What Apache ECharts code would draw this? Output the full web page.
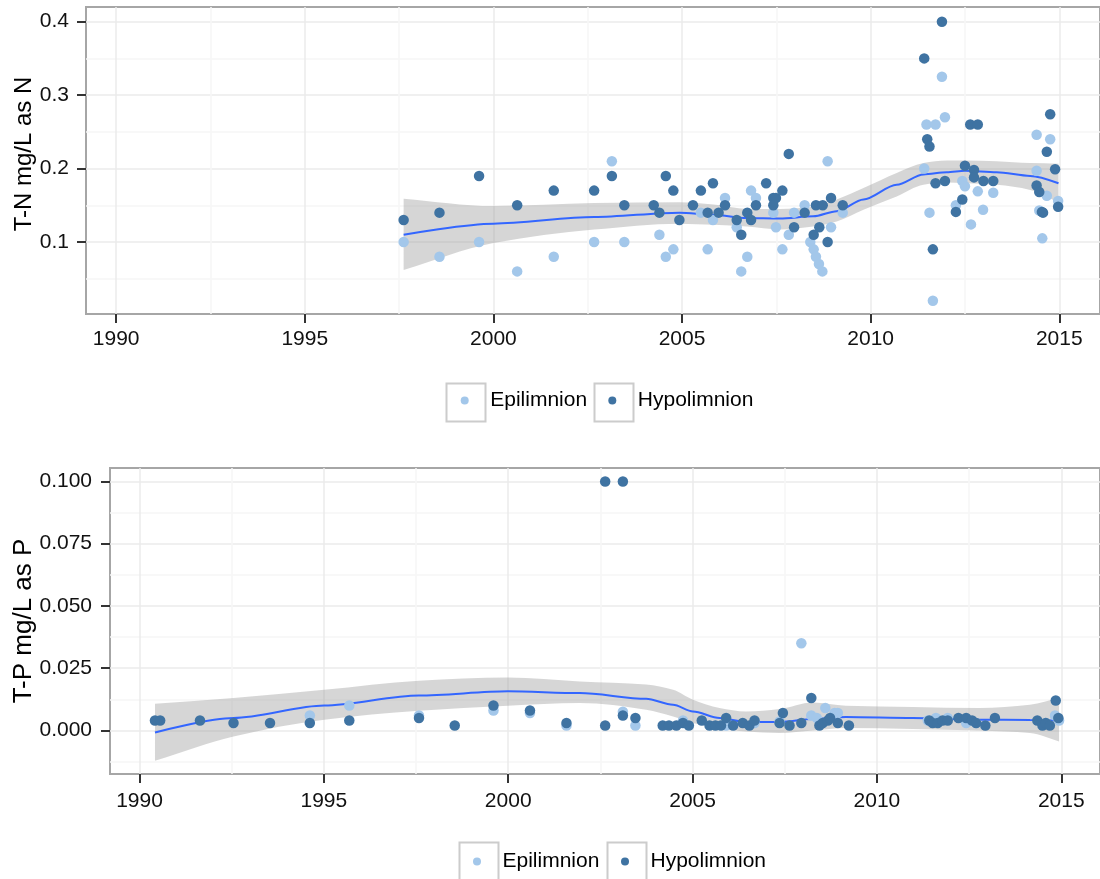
<!DOCTYPE html>
<html>
<head>
<meta charset="utf-8">
<script src="https://cdn.jsdelivr.net/npm/echarts@6/dist/echarts.min.js"></script>
<style>
  html, body { margin: 0; padding: 0; background: #fff; }
  #chart1 { width: 1100px; height: 879px; }
</style>
</head>
<body>
<div id="chart1"></div>
<script>
// tick labels
var yearTicks = [1990, 1995, 2000, 2005, 2010, 2015];
var tnTicks = [0.1, 0.2, 0.3, 0.4];
var tpTicks = [0, 0.025, 0.05, 0.075, 0.1];

// T-N points [year, mg/L]
var tnEpi = [[1997.62,0.10],[1998.57,0.08],[1999.62,0.10],[2000.63,0.06],[2001.60,0.08],[2002.67,0.10],[2003.14,0.21],[2003.47,0.10],
  [2004.40,0.11],[2004.57,0.08],[2004.77,0.09],[2005.50,0.14],[2005.68,0.09],[2005.82,0.13],[2006.14,0.16],[2006.45,0.12],[2006.57,0.06],
  [2006.73,0.08],[2006.83,0.17],[2006.96,0.16],[2007.42,0.14],[2007.49,0.12],[2007.66,0.09],[2007.83,0.11],[2007.97,0.14],[2008.25,0.15],
  [2008.40,0.10],[2008.49,0.09],[2008.55,0.08],[2008.63,0.07],[2008.72,0.06],[2008.86,0.21],[2008.95,0.12],[2009.26,0.14],[2011.42,0.20],
  [2011.48,0.26],[2011.56,0.14],[2011.65,0.02],[2011.72,0.26],[2011.89,0.325],[2011.97,0.27],[2012.26,0.15],[2012.43,0.183],[2012.50,0.176],
  [2012.66,0.124],[2012.84,0.169],[2012.98,0.144],[2013.25,0.167],[2014.40,0.246],[2014.40,0.197],[2014.47,0.143],[2014.55,0.105],
  [2014.67,0.163],[2014.76,0.240],[2014.97,0.156]];
var tnHypo = [[1997.62,0.13],[1998.57,0.14],[1999.62,0.19],[2000.63,0.15],[2001.60,0.17],[2002.67,0.17],[2003.14,0.19],[2003.47,0.15],
  [2004.25,0.15],[2004.40,0.14],[2004.57,0.19],[2004.77,0.17],[2004.93,0.13],[2005.29,0.15],[2005.50,0.17],[2005.68,0.14],[2005.82,0.18],
  [2005.97,0.14],[2006.14,0.15],[2006.45,0.13],[2006.57,0.11],[2006.73,0.14],[2006.83,0.13],[2006.96,0.15],[2007.23,0.18],[2007.42,0.16],
  [2007.49,0.16],[2007.42,0.15],[2007.66,0.17],[2007.83,0.22],[2007.97,0.12],[2008.25,0.14],[2008.49,0.11],[2008.55,0.15],[2008.64,0.12],
  [2008.73,0.15],[2008.86,0.10],[2008.95,0.16],[2009.26,0.15],[2011.42,0.35],[2011.50,0.24],[2011.56,0.23],[2011.65,0.09],[2011.72,0.18],
  [2011.89,0.40],[2011.97,0.183],[2012.26,0.141],[2012.43,0.158],[2012.50,0.204],[2012.64,0.26],[2012.84,0.26],[2012.74,0.198],
  [2012.74,0.188],[2012.99,0.183],[2013.25,0.183],[2014.40,0.177],[2014.47,0.168],[2014.54,0.141],[2014.57,0.14],[2014.67,0.223],
  [2014.76,0.274],[2014.89,0.199],[2014.97,0.148]];
// loess fit [year, fit, lower, upper]
var tnFit = [[1997.62,0.110,0.062,0.159],[2000.00,0.125,0.0986,0.149],[2002.67,0.134,0.117,0.153],[2004.93,0.140,0.125,0.154],
  [2005.84,0.137,0.1235,0.151],[2006.72,0.1327,0.121,0.145],[2007.59,0.132,0.117,0.145],[2008.48,0.135,0.121,0.148],
  [2009.10,0.142,0.128,0.158],[2009.81,0.158,0.144,0.1735],[2010.69,0.178,0.162,0.194],[2011.40,0.192,0.178,0.2075],
  [2012.02,0.195,0.181,0.211],[2012.50,0.197,0.180,0.211],[2013.34,0.195,0.178,0.210],[2014.23,0.190,0.171,0.2075],
  [2014.98,0.180,0.154,0.2066]];

// T-P points [year, mg/L]
var tpEpi = [[1994.62,0.006],[1995.69,0.010],[1997.58,0.006],[1999.60,0.008],[2000.59,0.007],[2001.58,0.002],[2003.11,0.0075],
  [2003.45,0.002],[2004.74,0.004],[2005.91,0.002],[2006.68,0.003],[2007.36,0.0036],[2007.95,0.035],[2008.22,0.006],[2008.37,0.005],
  [2008.60,0.009],[2008.85,0.007],[2008.94,0.007],[2011.38,0.004],[2011.60,0.005],[2011.92,0.005],[2012.42,0.003],[2012.69,0.003],
  [2014.58,0.003],[2014.83,0.006],[2014.94,0.004]];
var tpHypo = [[1990.42,0.004],[1990.56,0.004],[1991.64,0.004],[1992.55,0.003],[1993.54,0.003],[1994.62,0.003],[1995.69,0.004],
  [1997.58,0.005],[1998.55,0.002],[1999.60,0.010],[2000.59,0.008],[2001.58,0.003],[2002.63,0.100],[2002.63,0.002],[2003.11,0.100],
  [2003.11,0.006],[2003.45,0.005],[2004.19,0.002],[2004.36,0.002],[2004.56,0.002],[2004.74,0.003],[2004.90,0.002],[2005.25,0.004],
  [2005.46,0.002],[2005.62,0.002],[2005.77,0.002],[2005.91,0.005],[2006.10,0.002],[2006.36,0.003],[2006.54,0.002],[2006.68,0.004],
  [2007.36,0.003],[2007.45,0.007],[2007.63,0.002],[2007.95,0.003],[2008.22,0.013],[2008.44,0.002],[2008.53,0.003],[2008.67,0.004],
  [2008.73,0.005],[2008.94,0.003],[2009.24,0.002],[2011.42,0.004],[2011.51,0.003],[2011.65,0.003],[2011.78,0.004],[2011.92,0.004],
  [2012.21,0.005],[2012.42,0.005],[2012.58,0.004],[2012.69,0.003],[2012.94,0.002],[2013.20,0.005],[2014.35,0.004],[2014.49,0.002],
  [2014.58,0.003],[2014.69,0.002],[2014.85,0.012],[2014.92,0.005]];
var tpFit = [[1990.42,-0.0008,-0.0122,0.0107],[1992.55,0.005,-0.0024,0.013],[1995.01,0.010,0.0043,0.0163],[1997.58,0.014,0.0079,0.020],
  [1999.99,0.0157,0.0099,0.0213],[2001.94,0.015,0.011,0.0197],[2003.74,0.0127,0.0083,0.0184],[2004.47,0.0103,0.0056,0.0163],
  [2005.01,0.0076,0.003,0.0123],[2005.73,0.005,0.001,0.009],[2006.45,0.0034,-0.0004,0.0076],[2007.36,0.0034,-0.001,0.0086],
  [2008.26,0.0046,0.0,0.0112],[2009.16,0.0054,0.001,0.0099],[2010.97,0.005,0.0006,0.0094],[2012.78,0.0043,0.0,0.009],
  [2014.15,0.0042,-0.001,0.0103],[2014.94,0.004,-0.0044,0.013]];

var FONT = 'Liberation Sans, Arial, sans-serif';
var EPI_COLOR = '#A3C7EA';
var HYPO_COLOR = '#3F73A2';

function xAxisFor(grid) {
    return {
        type: 'value', gridIndex: grid,
        min: 1989.2, max: grid === 0 ? 2016.08 : 2016.05,
        minInterval: 5, maxInterval: 5,
        axisLine: { show: false, onZero: false },
        axisTick: { show: true, length: 9, customValues: yearTicks, lineStyle: { color: '#333', width: 2 } },
        axisLabel: {
            customValues: yearTicks, margin: grid === 0 ? 15 : 17,
            fontSize: 21, color: '#111', fontFamily: FONT,
            formatter: function (v) { return yearTicks.indexOf(v) >= 0 ? String(v) : ''; }
        },
        splitLine: { show: true, lineStyle: { color: '#EBEBEB', width: 1.5 } },
        minorTick: { show: false, splitNumber: 2 },
        minorSplitLine: { show: true, lineStyle: { color: '#F6F6F6', width: 1.5 } }
    };
}

function yAxisFor(grid, ticks, min, max, step, digits, name, nameSize, gap, pad) {
    return {
        type: 'value', gridIndex: grid,
        min: min, max: max,
        minInterval: step, maxInterval: step,
        name: name, nameLocation: 'middle', nameRotate: 90, nameGap: gap, nameMoveOverlap: false,
        nameTextStyle: { fontSize: nameSize, color: '#000', fontFamily: FONT, padding: pad },
        axisLine: { show: false, onZero: false },
        axisTick: { show: true, length: 9, customValues: ticks, lineStyle: { color: '#333', width: 2 } },
        axisLabel: {
            customValues: ticks, margin: grid === 0 ? 17 : 18,
            fontSize: 21, color: '#111', fontFamily: FONT,
            formatter: function (v) {
                for (var i = 0; i < ticks.length; i++) {
                    if (Math.abs(ticks[i] - v) < 1e-9) return ticks[i].toFixed(digits);
                }
                return '';
            }
        },
        splitLine: { show: true, lineStyle: { color: '#EBEBEB', width: 1.5 } },
        minorTick: { show: false, splitNumber: 2 },
        minorSplitLine: { show: true, lineStyle: { color: '#F6F6F6', width: 1.5 } }
    };
}

// monotone cubic (in x) bezier segments through pixel points
function monoSegments(p) {
    var n = p.length, d = [], h = [], m = [], segs = [];
    for (var i = 0; i < n - 1; i++) {
        h[i] = p[i + 1][0] - p[i][0];
        d[i] = (p[i + 1][1] - p[i][1]) / h[i];
    }
    m[0] = d[0];
    m[n - 1] = d[n - 2];
    for (var k = 1; k < n - 1; k++) {
        if (d[k - 1] * d[k] <= 0) { m[k] = 0; continue; }
        var w1 = 2 * h[k] + h[k - 1], w2 = h[k] + 2 * h[k - 1];
        m[k] = (w1 + w2) / (w1 / d[k - 1] + w2 / d[k]);
    }
    for (var j = 0; j < n - 1; j++) {
        var t = h[j] / 3;
        segs.push([p[j], [p[j][0] + t, p[j][1] + m[j] * t], [p[j + 1][0] - t, p[j + 1][1] - m[j + 1] * t], p[j + 1]]);
    }
    return segs;
}

function ribbonPath(upper, lower) {
    var su = monoSegments(upper), sl = monoSegments(lower);
    var s = 'M' + upper[0][0] + ' ' + upper[0][1];
    su.forEach(function (g) {
        s += 'C' + g[1][0] + ' ' + g[1][1] + ' ' + g[2][0] + ' ' + g[2][1] + ' ' + g[3][0] + ' ' + g[3][1];
    });
    var last = lower[lower.length - 1];
    s += 'L' + last[0] + ' ' + last[1];
    for (var i = sl.length - 1; i >= 0; i--) {
        var g = sl[i];
        s += 'C' + g[2][0] + ' ' + g[2][1] + ' ' + g[1][0] + ' ' + g[1][1] + ' ' + g[0][0] + ' ' + g[0][1];
    }
    return s + 'Z';
}

// confidence ribbon + fitted line
function fitSeries(fit, grid, key) {
    return [{
        name: key + 'Band', type: 'custom', xAxisIndex: grid, yAxisIndex: grid,
        data: [[fit[0][0], fit[0][2]]], silent: true, z: 1,
        renderItem: function (params, api) {
            var upper = fit.map(function (r) { return api.coord([r[0], r[3]]); });
            var lower = fit.map(function (r) { return api.coord([r[0], r[2]]); });
            return {
                type: 'path',
                shape: { pathData: ribbonPath(upper, lower) },
                style: { fill: 'rgba(153,153,153,0.4)' }
            };
        }
    }, {
        name: key + 'Fit', type: 'line', xAxisIndex: grid, yAxisIndex: grid,
        data: fit.map(function (r) { return [r[0], r[1]]; }),
        symbol: 'none', smooth: 0.3, smoothMonotone: 'x', silent: true,
        lineStyle: { color: '#3366FF', width: 2 }, z: 2
    }];
}

function pointSeries(name, data, grid, color) {
    return {
        name: name, type: 'scatter', xAxisIndex: grid, yAxisIndex: grid,
        data: data, symbol: 'circle', symbolSize: 10.5,
        itemStyle: { color: color, opacity: 1 }, z: 3
    };
}

// left = key dot centre - 4 (legend aligns on the dot's bounding box)
function legendFor(name, left, top) {
    return {
        data: [name], left: left, top: top, padding: 0,
        itemWidth: 41, itemHeight: 8, icon: 'circle', selectedMode: false,
        textStyle: { fontSize: 21, color: '#000', fontFamily: FONT }
    };
}

function keyBox(x, y) {
    return {
        type: 'rect', left: x, top: y, silent: true,
        shape: { width: 39, height: 38 },
        style: { fill: 'none', stroke: '#CCCCCC', lineWidth: 2 }
    };
}

var chart = echarts.init(document.getElementById('chart1'));

var series = [].concat(
    fitSeries(tnFit, 0, 'tn'),
    [pointSeries('Epilimnion', tnEpi, 0, EPI_COLOR), pointSeries('Hypolimnion', tnHypo, 0, HYPO_COLOR)],
    fitSeries(tpFit, 1, 'tp'),
    [pointSeries('Epilimnion', tpEpi, 1, EPI_COLOR), pointSeries('Hypolimnion', tpHypo, 1, HYPO_COLOR)]
);

chart.setOption({
    animation: false,
    backgroundColor: '#fff',
    textStyle: { fontFamily: FONT },
    grid: [
        { left: 86, top: 7, right: 0, height: 307, outerBoundsMode: 'none', containLabel: false,
          show: true, borderColor: '#A6A6A6', borderWidth: 2, backgroundColor: 'transparent' },
        { left: 110, top: 468, right: 0, height: 306, outerBoundsMode: 'none', containLabel: false,
          show: true, borderColor: '#A6A6A6', borderWidth: 2, backgroundColor: 'transparent' }
    ],
    xAxis: [xAxisFor(0), xAxisFor(1)],
    yAxis: [
        yAxisFor(0, tnTicks, 0.002, 0.42, 0.1, 1, 'T-N mg/L as N', 24, 50, [0, 0, 0, 13]),
        yAxisFor(1, tpTicks, -0.0175, 0.1054, 0.025, 3, 'T-P mg/L as P', 26, 73, [0, 0, 0, 0])
    ],
    legend: [
        legendFor('Epilimnion', 460.7, 390),
        legendFor('Hypolimnion', 608.3, 390),
        legendFor('Epilimnion', 473, 851),
        legendFor('Hypolimnion', 621, 851)
    ],
    graphic: [keyBox(444, 381), keyBox(592, 381), keyBox(457, 840), keyBox(605, 840)],
    series: series
});
</script>
</body>
</html>
